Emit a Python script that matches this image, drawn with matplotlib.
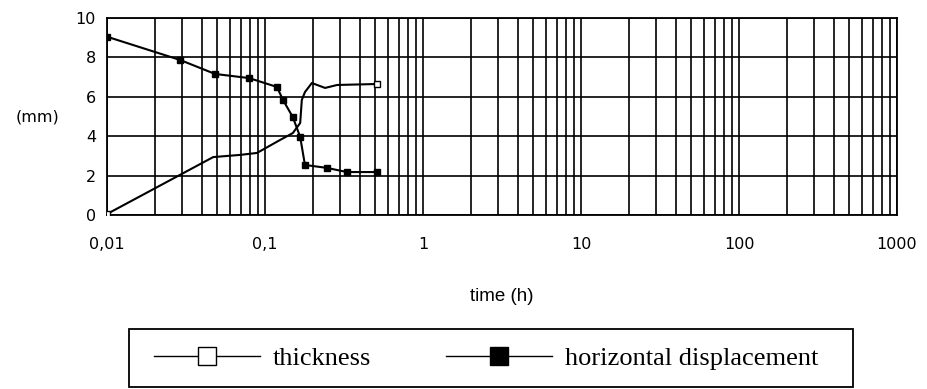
import matplotlib
matplotlib.use("Agg")
import matplotlib.pyplot as plt
from matplotlib.lines import Line2D
from matplotlib.patches import Rectangle
from matplotlib.ticker import FixedLocator, LogLocator, NullFormatter

# Data
thick_t = [0.01, 0.047, 0.0695, 0.089, 0.124, 0.150, 0.167, 0.171, 0.179, 0.198, 0.24, 0.286, 0.512]
thick_v = [0.05, 2.94, 3.05, 3.15, 3.8, 4.16, 4.67, 5.84, 6.24, 6.7, 6.45, 6.6, 6.65]

disp_t = [0.01, 0.029, 0.0483, 0.0793, 0.119, 0.130, 0.150, 0.167, 0.179, 0.247, 0.33, 0.512]
disp_v = [9.05, 7.87, 7.16, 6.95, 6.5, 5.84, 4.97, 3.96, 2.54, 2.39, 2.18, 2.18]

x_ticks = [0.01, 0.1, 1, 10, 100, 1000]
x_tick_labels = ["0,01", "0,1", "1", "10", "100", "1000"]
y_ticks = [0, 2, 4, 6, 8, 10]
y_tick_labels = ["0", "2", "4", "6", "8", "10"]
series_names = ["thickness", "horizontal displacement"]

W, H = 928, 389
fig = plt.figure(figsize=(W / 100, H / 100), dpi=100)
ax = fig.add_axes([107 / W, 1 - 215 / H, (897 - 107) / W, (215 - 18) / H])

ax.set_xscale("log")
ax.set_xlim(0.01, 1000)
ax.set_ylim(0, 10)

# grid
ax.xaxis.set_major_locator(FixedLocator(x_ticks))
ax.xaxis.set_minor_locator(LogLocator(base=10, subs=range(2, 10)))
ax.xaxis.set_minor_formatter(NullFormatter())
ax.set_yticks(y_ticks)
ax.grid(True, which="both", axis="x", color="black", linewidth=1.2)
ax.grid(True, which="major", axis="y", color="black", linewidth=1.2)
ax.set_axisbelow(True)

ax.set_xticklabels(x_tick_labels)
ax.set_yticklabels(y_tick_labels)
ax.tick_params(axis="x", which="both", length=0, pad=16, labelsize=11.5)
ax.tick_params(axis="y", which="both", length=0, pad=8, labelsize=11.5)
for lab in ax.get_xticklabels() + ax.get_yticklabels():
    lab.set_fontfamily("DejaVu Sans")

for s in ax.spines.values():
    s.set_linewidth(1.3)
    s.set_color("black")

ax.plot(thick_t, thick_v, color="black", linewidth=1.5, marker="s", markersize=4,
        markerfacecolor="white", markeredgecolor="black", markeredgewidth=1.0,
        markevery=[0, len(thick_t) - 1], zorder=3)
ax.plot(disp_t, disp_v, color="black", linewidth=1.5, marker="s", markersize=4,
        markerfacecolor="black", markeredgecolor="black", zorder=3)

ax.set_xlabel("time (h)", fontsize=13.5, fontfamily="Liberation Sans", labelpad=26)
ax.set_ylabel("(mm)", rotation=0, fontsize=11.5, fontfamily="DejaVu Sans")
ax.yaxis.set_label_coords(-0.088, 0.5)
ax.yaxis.label.set_verticalalignment("center")

# legend box
fig.patches.append(Rectangle((129 / W, 1 - 387 / H), (853 - 129) / W, (387 - 329) / H,
                             transform=fig.transFigure, fill=False,
                             edgecolor="black", linewidth=1.3))

h1 = Line2D([], [], color="black", linewidth=1.0, marker="s", markersize=13,
            markerfacecolor="white", markeredgecolor="black", markeredgewidth=1.0)
h2 = Line2D([], [], color="black", linewidth=1.0, marker="s", markersize=13,
            markerfacecolor="black", markeredgecolor="black", markeredgewidth=1.0)
leg = fig.legend([h1, h2], series_names, ncol=2,
                 loc="center left", bbox_to_anchor=(154 / W, 1 - 358 / H),
                 prop={"family": "Liberation Serif", "size": 19},
                 handlelength=4.0, handletextpad=0.5, columnspacing=2.85,
                 borderpad=0.0, borderaxespad=0.0, frameon=False, numpoints=1)

fig.savefig("out.png", dpi=100)
